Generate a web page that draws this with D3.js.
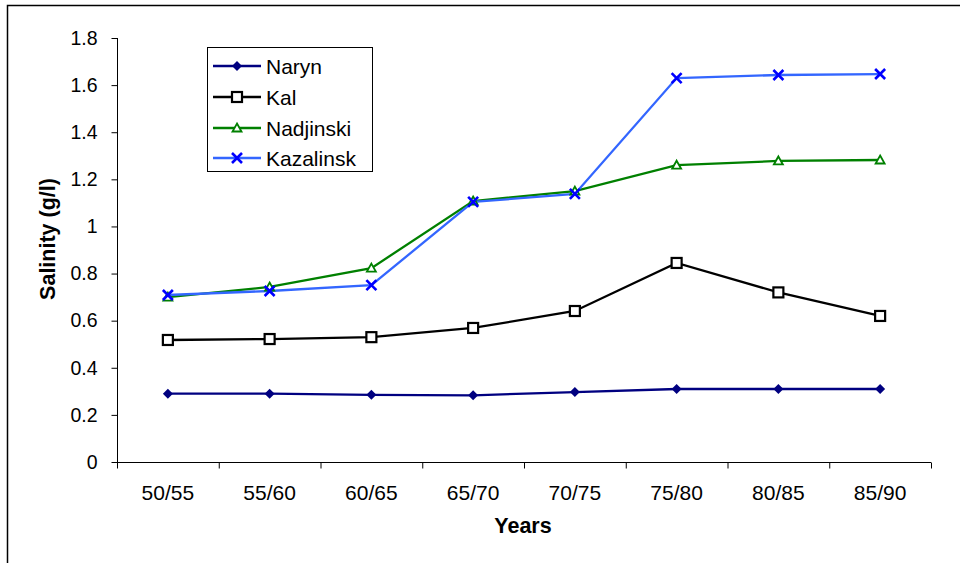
<!DOCTYPE html>
<html>
<head>
<meta charset="utf-8">
<script src="https://cdn.jsdelivr.net/npm/d3@7/dist/d3.min.js"></script>
<style>
  body { margin: 0; background: #fff; }
  svg { display: block; font-family: "Liberation Sans", Arial, sans-serif; }
</style>
</head>
<body>
<svg id="chart" width="960" height="563"></svg>
<script>
// Five-year periods
const periods = ["50/55", "55/60", "60/65", "65/70", "70/75", "75/80", "80/85", "85/90"];

// Mean salinity (g/l) per station
const naryn     = [0.29, 0.29, 0.285, 0.283, 0.297, 0.31, 0.31, 0.31];
const kal       = [0.518, 0.522, 0.53, 0.569, 0.641, 0.845, 0.72, 0.62];
const nadjinski = [0.70, 0.743, 0.823, 1.108, 1.15, 1.26, 1.278, 1.282];
const kazalinsk = [0.709, 0.726, 0.751, 1.104, 1.138, 1.63, 1.643, 1.647];

const yTicks = [0, 0.2, 0.4, 0.6, 0.8, 1, 1.2, 1.4, 1.6, 1.8];

const series = [
  { name: "Naryn",     values: naryn,     line: "#000080", mark: "#000080", shape: "diamond" },
  { name: "Kal",       values: kal,       line: "#000000", mark: "#000000", shape: "square" },
  { name: "Nadjinski", values: nadjinski, line: "#008000", mark: "#008000", shape: "triangle" },
  { name: "Kazalinsk", values: kazalinsk, line: "#3366FF", mark: "#0000FF", shape: "cross" }
];

const svg = d3.select("#chart");

// Outer frame
svg.append("rect")
  .attr("x", 7.5).attr("y", 5.5)
  .attr("width", 960).attr("height", 600)
  .attr("fill", "none").attr("stroke", "#000").attr("stroke-width", 1.5);

const plotL = 117, plotR = 931, plotT = 38, plotB = 462;

const x = d3.scaleBand().domain(periods).range([plotL, plotR]);
const y = d3.scaleLinear().domain([0, 1.8]).range([plotB, plotT]);

// Y axis
const yAxis = svg.append("g")
  .attr("transform", `translate(${plotL + 0.5},0)`)
  .call(d3.axisLeft(y).tickValues(yTicks).tickSize(6).tickPadding(14)
    .tickFormat(d => String(+d.toFixed(1))));
yAxis.selectAll("text").attr("font-size", 19.5).attr("fill", "#000")
  .attr("font-family", "Liberation Sans, Arial, sans-serif");
yAxis.selectAll("line, path").attr("stroke", "#000");
yAxis.select(".domain").attr("d", `M0,${plotT}V${plotB}`);

// X axis: ticks at category boundaries, labels centred in each band
const xg = svg.append("g").attr("transform", `translate(0,${plotB + 0.5})`);
xg.append("line").attr("x1", plotL).attr("x2", plotR).attr("stroke", "#000");
const bounds = periods.map(p => x(p)).concat([plotR]);
xg.selectAll("line.tick").data(bounds).join("line")
  .attr("class", "tick")
  .attr("x1", d => d + 0.5).attr("x2", d => d + 0.5)
  .attr("y1", 0).attr("y2", 6).attr("stroke", "#000");
xg.selectAll("text").data(periods).join("text")
  .attr("x", d => x(d) + x.bandwidth() / 2)
  .attr("y", 37)
  .attr("text-anchor", "middle")
  .attr("font-size", 21)
  .text(d => d);

// Axis titles
svg.append("text")
  .attr("x", 523).attr("y", 533)
  .attr("text-anchor", "middle")
  .attr("font-size", 21.5).attr("font-weight", "bold")
  .text("Years");
svg.append("text")
  .attr("transform", "translate(55,239) rotate(-90)")
  .attr("text-anchor", "middle")
  .attr("font-size", 21.5).attr("font-weight", "bold")
  .text("Salinity (g/l)");

// Marker drawing
function marker(g, shape, color) {
  if (shape === "diamond") {
    g.append("path").attr("d", "M0,-5L5,0L0,5L-5,0Z").attr("fill", color);
  } else if (shape === "square") {
    g.append("rect").attr("x", -5).attr("y", -5).attr("width", 10).attr("height", 10)
      .attr("fill", "#fff").attr("stroke", color).attr("stroke-width", 2.2);
  } else if (shape === "triangle") {
    g.append("path").attr("d", "M0,-4.5L4.5,3.5L-4.5,3.5Z")
      .attr("fill", "#fff").attr("stroke", color).attr("stroke-width", 1.8);
  } else {
    g.append("path").attr("d", "M-5,-5L5,5M-5,5L5,-5")
      .attr("stroke", color).attr("stroke-width", 2.6).attr("fill", "none");
  }
}

const cx = p => x(p) + x.bandwidth() / 2;
const lineGen = d3.line().x((d, i) => cx(periods[i])).y(d => y(d));

series.forEach(s => {
  svg.append("path")
    .attr("d", lineGen(s.values))
    .attr("fill", "none").attr("stroke", s.line).attr("stroke-width", 2.3);
});
series.forEach(s => {
  s.values.forEach((v, i) => {
    const g = svg.append("g").attr("transform", `translate(${cx(periods[i])},${y(v)})`);
    marker(g, s.shape, s.mark);
  });
});

// Legend
const lg = svg.append("g");
lg.append("rect").attr("x", 207.5).attr("y", 47.5).attr("width", 165).attr("height", 124)
  .attr("fill", "#fff").attr("stroke", "#000").attr("stroke-width", 1);
const legendY = [66, 97, 128, 158];
series.forEach((s, i) => {
  const yy = legendY[i];
  lg.append("line").attr("x1", 213).attr("x2", 261).attr("y1", yy).attr("y2", yy)
    .attr("stroke", s.line).attr("stroke-width", 2.3);
  marker(lg.append("g").attr("transform", `translate(237,${yy})`), s.shape, s.mark);
  lg.append("text").attr("x", 266).attr("y", yy + 7.5).attr("font-size", 21).text(s.name);
});
</script>
</body>
</html>
